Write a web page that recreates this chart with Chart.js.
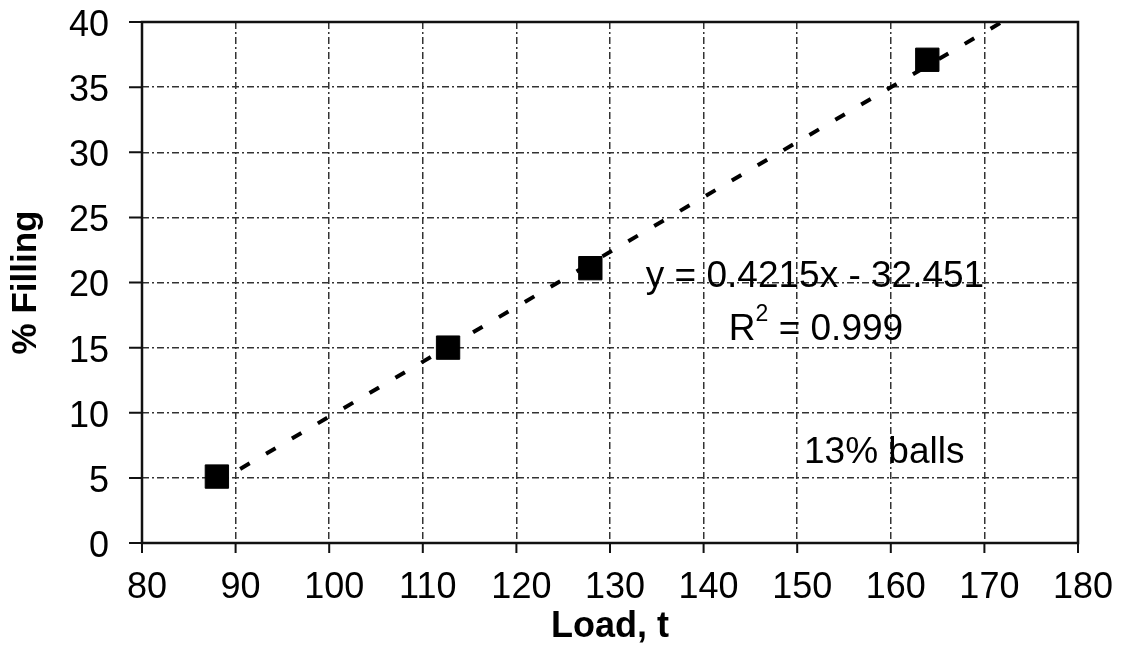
<!DOCTYPE html>
<html>
<head>
<meta charset="utf-8">
<script src="https://cdn.jsdelivr.net/npm/chart.js@4"></script>
<style>
  html, body { margin: 0; padding: 0; background: #fff; }
  #wrap { width: 1124px; height: 651px; position: relative; }
</style>
</head>
<body>
<div id="wrap"><canvas id="chart"></canvas></div>
<script>
// Measured points (Load, t vs % Filling)
const loadValues = [88, 112.7, 127.9, 163.9];
const fillValues = [5.1, 15.0, 21.1, 37.1];

// Linear trendline endpoints (y = 0.4215x - 32.451)
const trendX = [88, 172];
const trendY = [4.64, 40.05];

const xTicks = [80, 90, 100, 110, 120, 130, 140, 150, 160, 170, 180];
const yTicks = [0, 5, 10, 15, 20, 25, 30, 35, 40];

const FONT = "'Liberation Sans', Arial, sans-serif";

// Frame, outward tick marks and the text notes
const framePlugin = {
    id: 'frame',
    afterDraw(chart) {
        const { ctx, chartArea: a, scales } = chart;
        ctx.save();
        ctx.strokeStyle = '#111';
        ctx.lineWidth = 2.5;
        ctx.setLineDash([]);
        ctx.strokeRect(a.left, a.top, a.right - a.left, a.bottom - a.top);

        ctx.lineWidth = 2;
        ctx.beginPath();
        xTicks.forEach(v => {
            const px = scales.x.getPixelForValue(v);
            ctx.moveTo(px, a.bottom);
            ctx.lineTo(px, a.bottom + 10);
        });
        yTicks.forEach(v => {
            const py = scales.y.getPixelForValue(v);
            ctx.moveTo(a.left - 13, py);
            ctx.lineTo(a.left, py);
        });
        ctx.stroke();

        // equation and note
        ctx.fillStyle = '#000';
        ctx.font = '37px ' + FONT;
        ctx.textAlign = 'center';
        ctx.textBaseline = 'alphabetic';
        ctx.fillText('y = 0.4215x - 32.451', 815, 287);

        ctx.textAlign = 'left';
        const r = 'R', rest = ' = 0.999';
        const rw = ctx.measureText(r).width;
        ctx.font = '23px ' + FONT;
        const sw = ctx.measureText('2').width;
        ctx.font = '37px ' + FONT;
        const total = rw + sw + ctx.measureText(rest).width;
        let x0 = 816 - total / 2;
        ctx.fillText(r, x0, 340);
        ctx.font = '23px ' + FONT;
        ctx.fillText('2', x0 + rw, 321);
        ctx.font = '37px ' + FONT;
        ctx.fillText(rest, x0 + rw + sw, 340);

        ctx.fillText('13% balls', 804, 463);
        ctx.restore();
    }
};

const ctx = document.getElementById('chart').getContext('2d');
new Chart(ctx, {
    type: 'scatter',
    data: {
        datasets: [{
            label: '% Filling',
            data: loadValues.map((x, i) => ({ x: x, y: fillValues[i] })),
            pointStyle: 'rect',
            pointRadius: 16.5,
            pointHoverRadius: 16.5,
            backgroundColor: '#000',
            borderColor: '#000',
            borderWidth: 1
        }, {
            label: 'Trend',
            type: 'line',
            data: trendX.map((x, i) => ({ x: x, y: trendY[i] })),
            borderColor: '#000',
            borderWidth: 4,
            borderDash: [11, 19],
            borderDashOffset: 3,
            pointRadius: 0,
            fill: false
        }]
    },
    options: {
        responsive: true,
        maintainAspectRatio: false,
        animation: false,
        layout: { padding: 0 },
        plugins: {
            legend: { display: false },
            tooltip: { enabled: false }
        },
        scales: {
            x: {
                type: 'linear',
                min: 80,
                max: 180,
                afterBuildTicks: s => { s.ticks = xTicks.map(v => ({ value: v })); },
                afterFit: s => {
                    s.height = 108;
                    s.paddingLeft = 0;
                    s.paddingRight = 46;
                },
                grid: { color: '#333', lineWidth: 1.5, drawTicks: false },
                border: { display: false, dash: [7, 3, 2, 3] },
                ticks: {
                    color: '#000',
                    padding: 23,
                    labelOffset: 5,
                    font: { family: FONT, size: 36 }
                },
                title: {
                    display: true,
                    text: 'Load, t',
                    color: '#000',
                    padding: { top: 0, bottom: 2 },
                    font: { family: FONT, size: 36, weight: 'bold' }
                }
            },
            y: {
                type: 'linear',
                min: 0,
                max: 40,
                afterBuildTicks: s => { s.ticks = yTicks.map(v => ({ value: v })); },
                afterFit: s => {
                    s.width = 142;
                    s.paddingTop = 22;
                    s.paddingBottom = 0;
                },
                grid: { color: '#333', lineWidth: 1.5, drawTicks: false },
                border: { display: false, dash: [7, 3, 2, 3] },
                ticks: {
                    color: '#000',
                    padding: 33,
                    labelOffset: 4,
                    font: { family: FONT, size: 36 }
                },
                title: {
                    display: true,
                    text: '% Filling',
                    color: '#000',
                    padding: { top: 5, bottom: 0 },
                    font: { family: FONT, size: 35, weight: 'bold' }
                }
            }
        }
    },
    plugins: [framePlugin]
});
</script>
</body>
</html>
